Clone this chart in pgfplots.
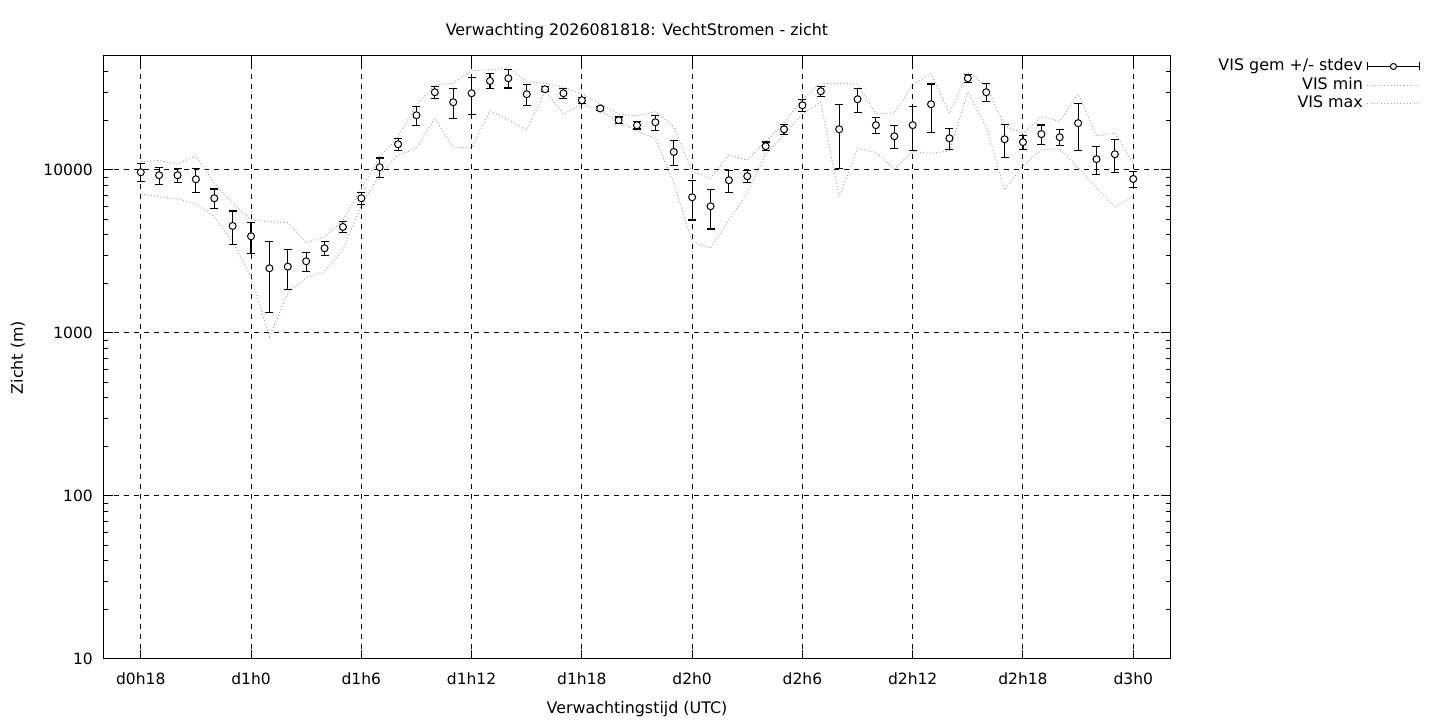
\documentclass[border=0pt]{standalone}
\usepackage{fontspec}
\setmainfont{DejaVu Sans}
\usepackage{pgfplots}
\usepackage{pgfplotstable}
\pgfplotsset{compat=1.18}
\pgfplotstableread{
h mean sd max min
18 9680 1240 11244 7124
19 9280 1110 11405 6858
20 9280 919 10884 6639
21 8770 1495 12187 6185
22 6705 936 8286 5170
23 4533 1065 6247 3631
24 3920 847 4934 2215
25 2494 1155 4817 949
26 2551 704 4750 1752
27 2754 368 3581 2184
28 3308 338 3898 2377
29 4470 355 4886 3230
30 6705 569 7722 6099
31 10389 1452 12016 9318
32 14380 1286 15872 12359
33 21659 2955 25045 13590
34 29970 2645 33227 20765
35 26022 5384 34034 13706
36 29549 7538 40683 13706
37 35156 3690 41088 23014
38 36525 4708 42264 20271
39 29135 4432 34810 17596
40 31267 1107 34034 30526
41 29549 2085 32163 21967
42 26767 1059 29258 25298
43 23843 672 25405 23014
44 20185 930 22063 19703
45 18804 972 21450 17349
46 19620 2069 22788 15650
47 12896 2264 18437 8286
48 6800 1867 9763 3631
49 5988 1643 8894 3308
50 8646 1330 12359 4934
51 9149 777 11517 7225
52 13979 857 14959 12535
53 17768 1321 19290 16391
54 24940 2180 27378 22063
55 30397 2058 33700 26133
56 17768 7528 34034 6858
57 27147 4498 33700 13590
58 18831 2032 22126 12803
59 16099 2554 22282 10142
60 18831 5640 33227 12950
61 25298 8379 38974 12661
62 15650 2382 22282 13078
63 36525 2175 39640 30097
64 29970 3720 32765 18359
65 15428 3553 18619 7539
66 14812 1500 16800 10581
67 16587 2280 21238 13264
68 15872 1792 19899 13453
69 19372 6150 29258 10360
70 11649 2330 16207 7722
71 12482 2874 16871 5955
72 8806 1028 10993 6858
}\data
\newcommand{\myfont}{\fontsize{15.9pt}{18pt}\selectfont}
\newcommand{\tickfont}{\fontsize{15.5pt}{18pt}\selectfont}
\pgfplotsset{
  errleg/.style={legend image code/.code={
    \draw[black, line width=1.1pt] (0pt,0pt) -- (52pt,0pt);
    \draw[black, line width=1.1pt] (0pt,-4pt) -- (0pt,4pt);
    \draw[black, line width=1.1pt] (52pt,-4pt) -- (52pt,4pt);
    \draw[black, line width=1pt, fill=white] (26pt,0pt) circle (3pt);}},
  dotleg/.style={legend image code/.code={
    \draw[gray!70, line width=1pt, dash pattern=on 1pt off 2.3pt] (0pt,0pt) -- (52pt,0pt);}},
}
\begin{document}
\begin{tikzpicture}
\path[use as bounding box] (-104pt,-61pt) rectangle (1336pt,659pt);
\begin{axis}[
  at={(0pt,0pt)}, anchor=south west,
  scale only axis, width=1066pt, height=603pt,
  ymode=log, xmin=16, xmax=74, ymin=10, ymax=50000,
  axis line style={line width=1pt, black},
  tick pos=both, tick align=inside,
  major tick length=9pt, minor tick length=4.5pt,
  tick style={line width=1pt, black},
  xtick={18,24,30,36,42,48,54,60,66,72},
  xticklabels={d0h18,d1h0,d1h6,d1h12,d1h18,d2h0,d2h6,d2h12,d2h18,d3h0},
  ytick={10,100,1000,10000},
  yticklabels={10,100,1000,10000},
  minor ytick={20,30,40,50,60,70,80,90,200,300,400,500,600,700,800,900,2000,3000,4000,5000,6000,7000,8000,9000,20000,30000,40000},
  xminorgrids=false, yminorgrids=false,
  grid=major,
  major grid style={black, line width=1pt, dash pattern=on 5pt off 5pt},
  xticklabel style={font=\tickfont, anchor=base, inner sep=0pt, yshift=-25.5pt},
  yticklabel style={font=\tickfont, anchor=east, inner sep=0pt, xshift=-11pt},
  xlabel={Verwachtingstijd (UTC)},
  xlabel style={font=\myfont, at={(axis description cs:0.5,0)}, anchor=base, inner sep=0pt, yshift=-55pt},
  ylabel={Zicht (m)},
  ylabel style={font=\myfont, at={(axis description cs:0,0.5)}, anchor=center, inner sep=0pt, yshift=86pt},
  title={Verwachting 2026081818: VechtStromen - zicht},
  title style={font=\myfont, at={(axis description cs:0.5,1)}, anchor=base, inner sep=0pt, yshift=14.5pt},
  legend cell align=right, legend plot pos=right,
  legend style={draw=none, fill=none, at={(1.2345,0.9942)}, anchor=north east,
    inner sep=0pt, outer sep=0pt, row sep=4.6pt, column sep=4pt, font=\myfont,
    nodes={inner sep=0pt, text height=11pt, text depth=3pt}},
]
\addlegendimage{errleg}
\addlegendentry{VIS gem +/- stdev}
\addplot[gray!70, line width=1pt, dash pattern=on 1pt off 2.3pt, dotleg]
  table[x=h, y=min] {\data};
\addlegendentry{VIS min}
\addplot[gray!70, line width=1pt, dash pattern=on 1pt off 2.3pt, dotleg]
  table[x=h, y=max] {\data};
\addlegendentry{VIS max}
\addplot[forget plot, black, only marks, mark=*, mark size=3.5pt,
  mark options={fill=white, draw=black, line width=1pt},
  error bars/.cd, y dir=both, y explicit,
  error bar style={line width=1.1pt, black},
  error mark options={rotate=90, black, line width=1.1pt, mark size=4pt}]
  table[x=h, y=mean, y error=sd] {\data};
\end{axis}
\end{tikzpicture}
\end{document}
